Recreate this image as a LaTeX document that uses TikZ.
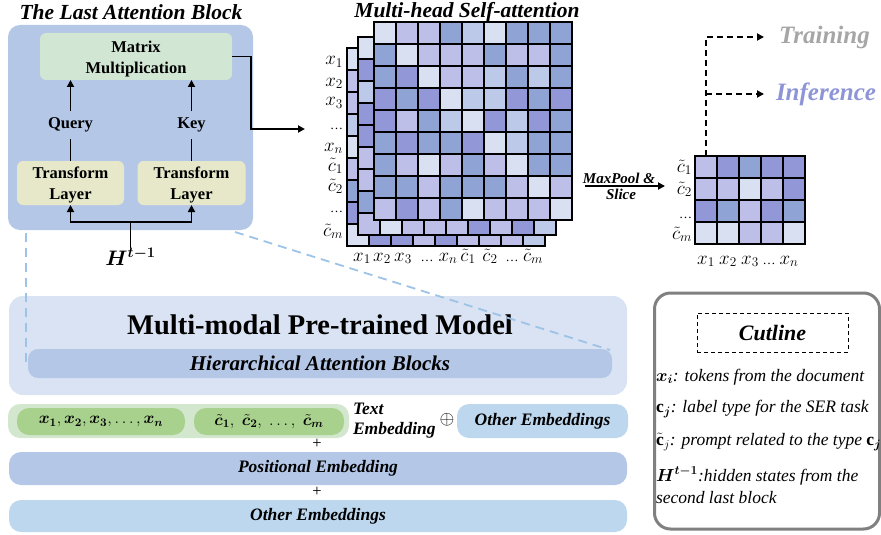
\documentclass[tikz,border=0pt]{standalone}
\usepackage{fix-cm}
\usepackage{fontspec}
\setmainfont{Liberation Serif}
\usepackage{amsmath}
\usepackage{bm}
\usetikzlibrary{arrows.meta,calc}

% palette
\definecolor{blockblue}{HTML}{B4C7E7}
\definecolor{mmgreen}{HTML}{D2E6D4}
\definecolor{tfyellow}{HTML}{E6E8C9}
\definecolor{modelbg}{HTML}{DAE3F3}
\definecolor{pillbg}{HTML}{D2E7CD}
\definecolor{pillgreen}{HTML}{A9D18E}
\definecolor{embblue}{HTML}{BDD7EE}
\definecolor{dashblue}{HTML}{9DC3E6}
\definecolor{cutgray}{HTML}{808080}
\definecolor{traingray}{HTML}{A6A6A6}
\definecolor{infercol}{HTML}{8E95D6}
% heat-map shades
\definecolor{clA}{HTML}{D9E0F2}
\definecolor{clB}{HTML}{BEBFE8}
\definecolor{clC}{HTML}{BCC9E8}
\definecolor{clD}{HTML}{8FA4D4}
\definecolor{clE}{HTML}{9297D8}

% font sizes
\newcommand{\fntTitle}{\fontsize{21.5}{24}\selectfont\bfseries\itshape}
\newcommand{\fntBx}{\fontsize{16.5}{21}\selectfont\bfseries}
\newcommand{\fntLab}{\fontsize{19}{22}\selectfont}
\newcommand{\fntPill}{\fontsize{16.5}{19}\selectfont}
\newcommand{\fntH}{\fontsize{21}{24}\selectfont}
\newcommand{\fntModel}{\fontsize{28.5}{31}\selectfont\bfseries}
\newcommand{\fntMid}{\fontsize{21}{24}\selectfont\bfseries\itshape}
\newcommand{\fntEmb}{\fontsize{17.5}{20}\selectfont\bfseries\itshape}
\newcommand{\fntSmall}{\fontsize{15}{17}\selectfont\bfseries\itshape}
\newcommand{\fntBig}{\fontsize{25}{28}\selectfont\bfseries\itshape}
\newcommand{\fntCut}{\fontsize{22}{25}\selectfont\bfseries\itshape}
\newcommand{\fntItem}{\fontsize{17.5}{20}\selectfont\itshape}
\newcommand{\lbdots}{{\fontsize{13}{13}\selectfont …}}

% a grid of 22x22 cells; #1,#2 = top-left corner, #3 = rows of shade letters
\newcommand{\heatgrid}[3]{%
  \foreach \rowcells [count=\ri] in {#3} {%
    \foreach \cc [count=\ci] in \rowcells {%
      \draw[cellline, fill=cl\cc] ({#1+(\ci-1)*22},{#2+(\ri-1)*22}) rectangle ++(22,22);
    }%
  }%
}

\tikzset{
  every node/.style={inner sep=0pt, outer sep=0pt},
  cellline/.style={draw=black, line width=1.4pt},
  arr/.style={line width=1.8pt, -{Triangle[length=7pt,width=7pt]}},
  solidline/.style={line width=1.8pt},
  dasharr/.style={line width=1.8pt, dash pattern=on 6pt off 4pt, -{Triangle[length=7pt,width=7pt]}},
  bluedash/.style={draw=dashblue, line width=1.8pt, dash pattern=on 9pt off 6pt},
  panel/.style={rounded corners=#1},
  panel/.default=8pt,
  axislab/.style={font=\fntLab},
  boxtext/.style={align=center, font=\fntBx},
}

\begin{document}
\begin{tikzpicture}[x=1pt,y=-1pt]
\useasboundingbox (0,0) rectangle (881,535);

% ---------- the last attention block ----------
\node[fill=blockblue, rounded corners=12pt, minimum width=245pt, minimum height=205pt] (lastblk) at (130.5,127.5) {};
\node[font=\fntTitle] (lbtitle) at (131,12) {The Last Attention Block};
\node[fill=mmgreen, panel=6pt, minimum width=192pt, minimum height=47pt] (mm) at (136,56.5) {};
\node[boxtext] (mmtext) at ($(mm.center)+(0,3)$) {Matrix\\Multiplication};
\node[fill=tfyellow, panel=6pt, minimum width=107pt, minimum height=44pt] (tf1) at (70.5,183) {};
\node[boxtext] (tf1text) at ($(tf1.center)+(0,2)$) {Transform\\Layer};
\node[fill=tfyellow, panel=6pt, minimum width=108pt, minimum height=44pt] (tf2) at (191.5,183) {};
\node[boxtext] (tf2text) at ($(tf2.center)+(0,2)$) {Transform\\Layer};
\node[font=\fntBx, inner sep=7pt] (qry) at (70.5,125) {Query};
\node[font=\fntBx, inner sep=7pt] (key) at (191.5,125) {Key};
\node[font=\fntH] (hin) at (130.5,257) {$\bm{H}^{\bm{t-1}}$};

\draw[solidline] (tf1.north) -- (qry.south);
\draw[solidline] (tf2.north) -- (key.south);
\draw[arr] (qry.north) -- (qry.north |- mm.south);
\draw[arr] (key.north) -- (key.north |- mm.south);
\coordinate (split) at (130.5,222);
\draw[solidline] (hin.north) -- (split);
\draw[arr] (split) -| (tf1.south);
\draw[arr] (split) -| (tf2.south);

\coordinate (attin) at (305,129);
\draw[arr] (mm.east) -- ++(19,0) |- (attin);

% ---------- multi-head self-attention ----------
\node[font=\fntTitle] (mhtitle) at (467,12) {Multi-head Self-attention};
\heatgrid{347}{48}{{A,A,A,A,A,A,A,A,A},{B,A,A,A,A,A,A,A,A},{B,A,A,A,A,A,A,A,A},{C,A,A,A,A,A,A,A,A},{A,A,A,A,A,A,A,A,A},{B,A,A,A,A,A,A,A,A},{D,A,A,A,A,A,A,A,A},{E,A,A,A,A,A,A,A,A},{A,E,E,B,E,B,B,B,C}}
\heatgrid{358}{37}{{A,A,A,A,A,A,A,A,A},{E,A,A,A,A,A,A,A,A},{C,A,A,A,A,A,A,A,A},{E,A,A,A,A,A,A,A,A},{E,A,A,A,A,A,A,A,A},{B,A,A,A,A,A,A,A,A},{B,A,A,A,A,A,A,A,A},{D,A,A,A,A,A,A,A,A},{B,A,B,B,B,E,B,E,C}}
\heatgrid{374}{22}{{A,B,B,D,C,A,D,D,D},{D,A,B,B,B,D,B,B,D},{D,E,A,B,B,C,D,C,D},{E,D,E,A,C,C,E,D,E},{E,B,D,C,A,E,C,E,D},{D,E,D,D,E,A,C,D,D},{D,B,A,B,D,B,A,D,D},{D,D,B,D,D,D,B,A,B},{B,E,B,D,A,B,B,B,A}}

\foreach \lab/\yy [count=\k] in {{$x_1$}/65,{$x_2$}/86,{$x_3$}/106,{\lbdots}/129,{$x_n$}/151,{$\tilde{c}_1$}/171,{$\tilde{c}_2$}/191,{\lbdots}/212,{$\tilde{c}_m$}/236}
  \node[anchor=base east, axislab] (rl\k) at (343,\yy) {\lab};
\foreach \lab/\xx [count=\k] in {{$x_1$}/362,{$x_2$}/382,{$x_3$}/403,{\lbdots}/427,{$x_n$}/448,{$\tilde{c}_1$}/468,{$\tilde{c}_2$}/490,{\lbdots}/512,{$\tilde{c}_m$}/533}
  \node[anchor=base, axislab] (cl\k) at (\xx,261) {\lab};

% ---------- pooling ----------
\coordinate (mpstart) at (585,186);
\coordinate (mpend) at (665,186);
\draw[arr] (mpstart) -- (mpend);
\node[font=\fntSmall, anchor=south] (mptext) at (619,184) {MaxPool \&};
\node[font=\fntSmall, anchor=north] (slice) at (621,189) {Slice};

\heatgrid{695}{156}{{B,E,D,E,E},{B,B,A,B,E},{E,D,B,E,D},{A,A,B,B,A}}
\foreach \lab/\yy [count=\k] in {{$\tilde{c}_1$}/172,{$\tilde{c}_2$}/194,{\lbdots}/218,{$\tilde{c}_m$}/239}
  \node[anchor=base east, axislab] (srl\k) at (692,\yy) {\lab};
\foreach \lab/\xx [count=\k] in {{$x_1$}/706,{$x_2$}/728,{$x_3$}/750,{\lbdots}/769,{$x_n$}/789}
  \node[anchor=base, axislab] (scl\k) at (\xx,264) {\lab};

% ---------- outputs ----------
\node[font=\fntBig, text=traingray, anchor=west] (train) at (779,37) {Training};
\node[font=\fntBig, text=infercol, anchor=west] (infer) at (776,94) {Inference};
\coordinate (smtop) at (706,156);
\coordinate (branch) at (706,94);
\draw[dasharr] (smtop) |- ([xshift=-15pt]train.west);
\draw[dasharr] (branch) -- ([xshift=-12pt]infer.west);

% ---------- pre-trained model ----------
\node[fill=modelbg, rounded corners=14pt, minimum width=618pt, minimum height=99pt] (model) at (318,345.5) {};
\node[font=\fntModel] (modeltitle) at (320,325) {Multi-modal Pre-trained Model};
\node[fill=blockblue, rounded corners=10pt, minimum width=584pt, minimum height=29pt, font=\fntMid] (hab) at (320,363.5) {Hierarchical Attention Blocks};

\draw[bluedash] ($(lastblk.south west)+(18,3)$) -- ($(hab.west)+(-2,0)$);
\draw[bluedash] ($(lastblk.south east)+(-18,2)$) -- ($(hab.north east)+(-2,1)$);

% ---------- embeddings ----------
\node[fill=pillbg, rounded corners=12pt, minimum width=341pt, minimum height=34pt] (textemb) at (178.5,421) {};
\node[fill=pillgreen, rounded corners=12pt, minimum width=168pt, minimum height=27pt, font=\fntPill] (xpill) at (101,421.5) {$\bm{x}_{\bm{1}}, \bm{x}_{\bm{2}}, \bm{x}_{\bm{3}}, \ldots, \bm{x}_{\bm{n}}$};
\node[fill=pillgreen, rounded corners=12pt, minimum width=150pt, minimum height=27pt, font=\fntPill] (cpill) at (269,421.5) {$\bm{\tilde{c}}_{\bm{1}},\;\bm{\tilde{c}}_{\bm{2}},\;\ldots,\;\bm{\tilde{c}}_{\bm{m}}$};
\node[font=\fntEmb, align=left, anchor=west] (tetext) at (353,421) {Text\\Embedding};
\node[font=\fntLab] (oplus) at (447,420) {$\oplus$};
\node[fill=embblue, rounded corners=12pt, minimum width=171pt, minimum height=34pt, font=\fntEmb] (otherR) at (542.5,421) {Other Embeddings};
\node[font=\fntPill] (plus1) at (317,444) {+};
\node[fill=blockblue, rounded corners=12pt, minimum width=618pt, minimum height=33pt, font=\fntEmb] (posemb) at (318,468.5) {Positional Embedding};
\node[font=\fntPill] (plus2) at (317,492) {+};
\node[fill=embblue, rounded corners=12pt, minimum width=618pt, minimum height=32pt, font=\fntEmb] (otherB) at (318,516) {Other Embeddings};

% ---------- legend ----------
\node[draw=cutgray, line width=3pt, rounded corners=16pt, minimum width=225pt, minimum height=236pt] (cut) at (767,411) {};
\node[draw, line width=1pt, dash pattern=on 4pt off 3pt, minimum width=151pt, minimum height=39pt, font=\fntCut] (cuttitle) at (772.5,332.5) {Cutline};
\node[anchor=west, font=\fntItem] (item1) at (656,377) {$\bm{x}_{\bm{i}}$: tokens from the document};
\node[anchor=west, font=\fntItem] (item2) at (656,409) {$\mathbf{c}_{\bm{j}}$: label type for the SER task};
\node[anchor=west, font=\fntItem] (item3) at (656,442) {$\tilde{\mathbf{c}}_j$: prompt related to the type $\mathbf{c}_{\bm{j}}$};
\node[anchor=west, font=\fntItem] (item4) at (656,476) {$\bm{H}^{\bm{t-1}}$:hidden states from the};
\node[anchor=west, font=\fntItem] (item5) at (656,498) {second last block};
\end{tikzpicture}
\end{document}
